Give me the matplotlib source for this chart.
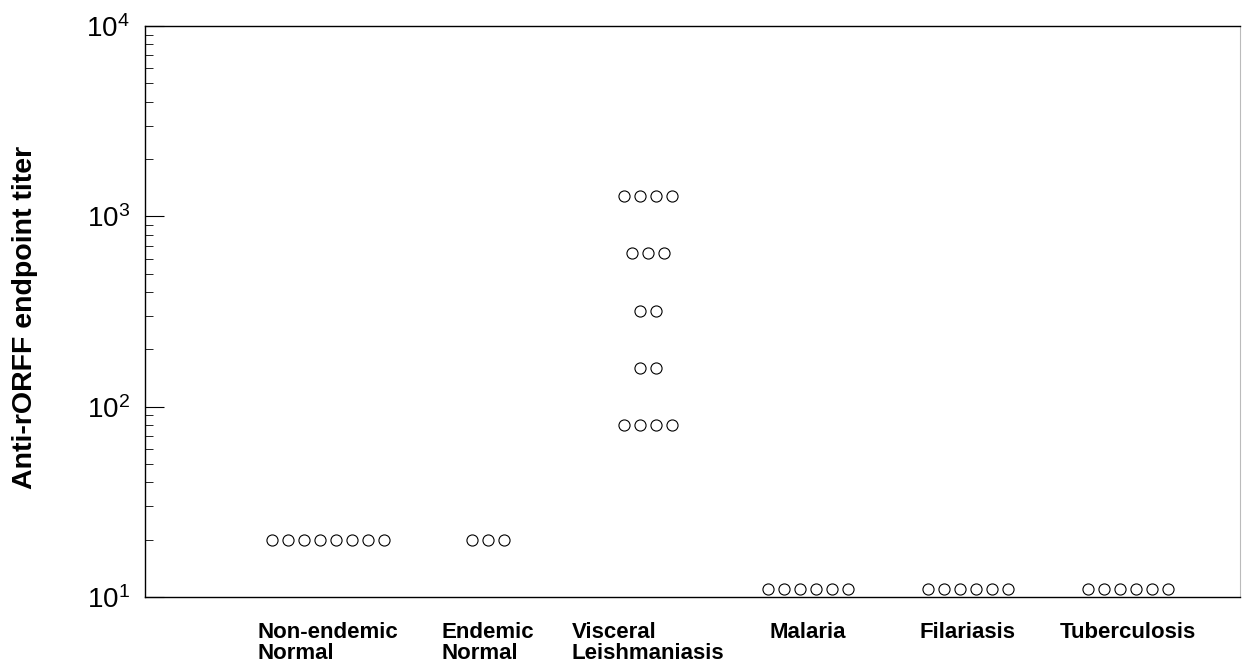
import matplotlib
matplotlib.use("Agg")
from matplotlib import pyplot as plt
from matplotlib.ticker import LogLocator, NullFormatter

plt.rcParams["font.family"] = ["Liberation Sans", "DejaVu Sans"]

# groups and titers (reciprocal endpoint dilution)
groups = ["Non-endemic\nNormal", "Endemic\nNormal", "Visceral\nLeishmaniasis",
          "Malaria", "Filariasis", "Tuberculosis"]
non_endemic = [20] * 8
endemic = [20] * 3
vl_titers = [1280, 640, 320, 160, 80]
vl_counts = [4, 3, 2, 2, 4]
malaria = [11] * 6
filariasis = [11] * 6
tuberculosis = [11] * 6

fig = plt.figure(figsize=(12.42, 6.66), dpi=100)
ax = fig.add_axes([0.1167, 0.1036, 0.8815, 0.8574])

step = 0.1  # horizontal spacing of points inside a group


def row(xc, value, n):
    xs = [xc + (j - (n - 1) / 2) * step for j in range(n)]
    ax.plot(xs, [value] * n, "o", ms=8, mfc="white", mec="black", mew=0.8, clip_on=False)


row(0, non_endemic[0], len(non_endemic))
row(1, endemic[0], len(endemic))
for v, n in zip(vl_titers, vl_counts):
    row(2, v, n)
row(3, malaria[0], len(malaria))
row(4, filariasis[0], len(filariasis))
row(5, tuberculosis[0], len(tuberculosis))

ax.set_yscale("log")
ax.set_ylim(10, 1e4)
ax.set_xlim(-1.144, 5.70)

ax.yaxis.set_major_locator(LogLocator(base=10, numticks=10))
ax.yaxis.set_minor_locator(LogLocator(base=10, subs=range(2, 10), numticks=10))
ax.yaxis.set_minor_formatter(NullFormatter())
ax.tick_params(axis="y", which="major", direction="in", length=14, width=0.8, labelsize=20, pad=11)
ax.tick_params(axis="y", which="minor", direction="in", length=6, width=0.6)
ax.tick_params(axis="x", which="both", bottom=False, labelbottom=False)

for k, g in enumerate(groups):
    ax.text(k, -0.043, g, transform=ax.get_xaxis_transform(), ha="center", va="top",
            multialignment="left", fontsize=16, fontweight="bold", linespacing=1.05)

ax.set_ylabel("Anti-rORFF endpoint titer", fontsize=20.5, fontweight="bold")
ax.yaxis.set_label_coords(-0.098, 0.49)

for s in ["left", "bottom", "top"]:
    ax.spines[s].set_linewidth(1.0)
ax.spines["right"].set_color("#bbbbbb")
ax.spines["right"].set_linewidth(0.8)

plt.savefig("out.png", dpi=100)
